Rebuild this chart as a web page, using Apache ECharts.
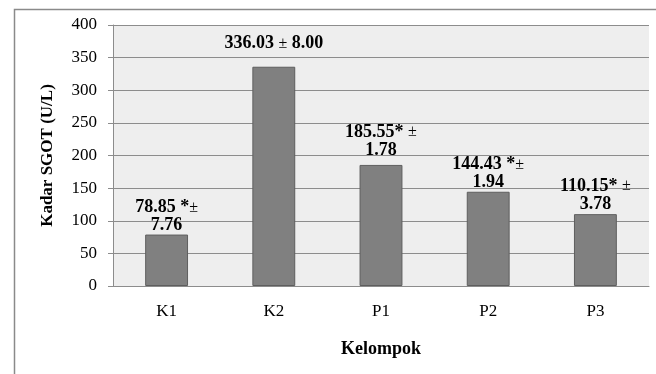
<!DOCTYPE html>
<html>
<head>
<meta charset="utf-8">
<script src="https://cdn.jsdelivr.net/npm/echarts@6/dist/echarts.min.js"></script>
<style>
  html, body { margin: 0; padding: 0; background: #ffffff; }
  #chart { width: 656px; height: 374px; }
</style>
</head>
<body>
<div id="chart"></div>
<script>
// Kadar SGOT per kelompok (mean ± SD)
const categories = ['K1', 'K2', 'P1', 'P2', 'P3'];
const sgotMean = [78.85, 336.03, 185.55, 144.43, 110.15];
const barLabels = [
  '78.85 *±\n7.76',
  '336.03 ± 8.00',
  '185.55* ±\n1.78',
  '144.43 *±\n1.94',
  '110.15* ±\n3.78'
];
const yTicks = [0, 50, 100, 150, 200, 250, 300, 350, 400];

// gap between bar top and its label, per bar
const labelGap = [0, 14, 6, 0, 1];

const serif = '"Liberation Serif", "Times New Roman", serif';
const chart = echarts.init(document.getElementById('chart'));

// the ± sign is set in regular weight inside the bold labels
const richLabel = s => s.replace(/±/g, '{pm|±}');

chart.setOption({
  animation: false,
  backgroundColor: '#ffffff',
  graphic: [{
    type: 'rect',
    left: 12, top: 7,
    shape: { width: 700, height: 420 },
    style: { fill: 'none', stroke: '#8a8a8a', lineWidth: 1.5 },
    silent: true
  }],
  grid: {
    left: 113, right: 7, top: 25, bottom: 88,
    show: true, backgroundColor: '#eeeeee', borderWidth: 0
  },
  xAxis: {
    type: 'category',
    data: categories,
    name: 'Kelompok',
    nameLocation: 'middle',
    nameGap: 54,
    nameTextStyle: { fontFamily: serif, fontSize: 18, fontWeight: 'bold', color: '#000' },
    axisLine: { lineStyle: { color: '#8c8c8c', width: 1 } },
    axisTick: { show: false },
    axisLabel: { fontFamily: serif, fontSize: 17, color: '#000', margin: 17 }
  },
  yAxis: {
    type: 'value',
    min: yTicks[0],
    max: yTicks[yTicks.length - 1],
    interval: 50,
    name: 'Kadar SGOT (U/L)',
    nameLocation: 'middle',
    nameGap: 57,
    nameTextStyle: { fontFamily: serif, fontSize: 17, fontWeight: 'bold', color: '#000' },
    axisLine: { show: true, lineStyle: { color: '#8c8c8c', width: 1 } },
    axisTick: { show: true, length: 5, lineStyle: { color: '#8c8c8c' } },
    axisLabel: { fontFamily: serif, fontSize: 17, color: '#000', margin: 16 },
    splitLine: { lineStyle: { color: '#8c8c8c', width: 1 } }
  },
  series: [{
    type: 'bar',
    barWidth: '40%',
    itemStyle: { color: '#808080', borderColor: '#5e5e5e', borderWidth: 1 },
    data: sgotMean.map((v, i) => ({
      value: v,
      label: {
        show: true,
        position: 'top',
        distance: labelGap[i],
        formatter: richLabel(barLabels[i]),
        fontFamily: serif,
        fontSize: 18,
        fontWeight: 'bold',
        color: '#000',
        lineHeight: 18,
        align: 'center',
        rich: {
          pm: { fontFamily: serif, fontSize: 16, fontWeight: 'normal', color: '#000', lineHeight: 18 }
        }
      }
    }))
  }]
});
</script>
</body>
</html>
